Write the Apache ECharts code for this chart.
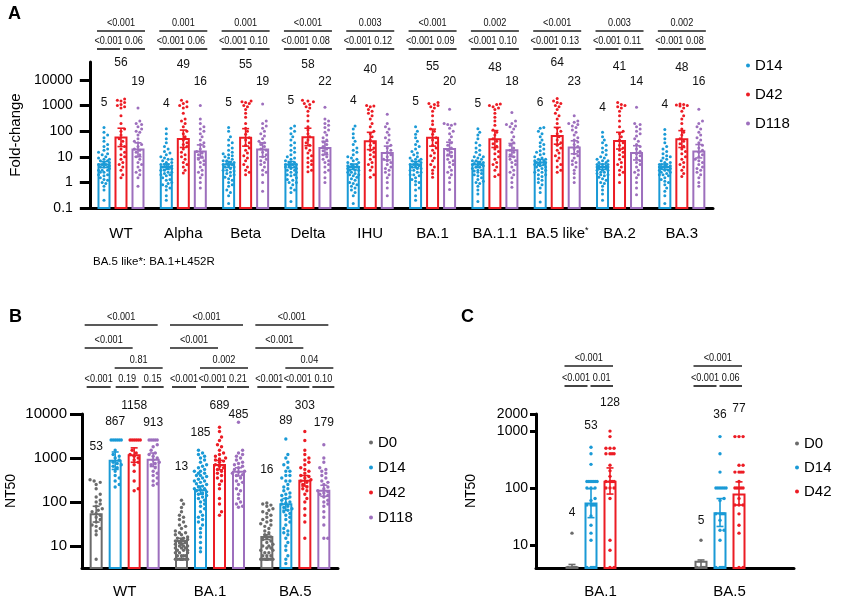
<!DOCTYPE html>
<html><head><meta charset="utf-8">
<script src="https://cdn.jsdelivr.net/npm/echarts@6/dist/echarts.min.js"></script>
<style>html,body{margin:0;padding:0;background:#fff}#c{width:841px;height:604px}</style>
</head><body><div id="c"></div>
<script>
const FONT = '"Liberation Sans", Arial, Helvetica, sans-serif';
const COL = {D0:'#6b6b6b', D14:'#1a9ad6', D42:'#ec1c24', D118:'#9d6fbd'};

// ---------------- Panel A: fold-change ----------------
const catsA = ['WT','Alpha','Beta','Delta','IHU','BA.1','BA.1.1','BA.5 like*','BA.2','BA.3'];
const meanA_D14  = [5,4,5,5,4,5,5,6,4,4];
const meanA_D42  = [56,49,55,58,40,55,48,64,41,48];
const meanA_D118 = [19,16,19,22,14,20,18,23,14,16];
const lowA_D14  = [3.8,3.2,3.8,3.8,3.2,3.8,3.8,4.6,3.2,3.2];
const highA_D14 = [6.5,5.2,6.5,6.5,5.2,6.5,6.5,7.8,5.2,5.2];
const lowA_D42  = [25,23,26,27,19,26,23,31,20,23];
const highA_D42 = [130,110,125,130,90,120,105,140,90,105];
const lowA_D118 = [10,9,10,12,7.5,11,10,13,7.5,9];
const highA_D118= [35,29,35,40,26,37,33,42,27,30];
const dotsA_D14 = [
 [140,90,70,55,40,30,25,20,18,15,13,12,10,9,8,8,7,7,6,6,5,5,5,4.5,4,4,4,3.5,3,3,3,2.5,2.5,2,2,1.8,1.5,1.3,1.2,1,0.9,0.7,0.5,0.2],
 [125,80,50,35,25,20,16,14,12,10,9,8,8,7,6,6,5,5,5,4.5,4,4,4,3.5,3.5,3,3,2.5,2.5,2.2,2,2,1.8,1.5,1.3,1.2,1,0.9,0.8,0.7,0.6,0.5,0.3,0.2],
 [140,100,60,45,35,28,22,18,15,13,12,11,10,9,8,7,7,6,6,5.5,5,5,4.5,4,4,3.5,3,3,2.8,2.5,2.2,2,1.8,1.6,1.4,1.2,1,0.8,0.7,0.5,0.4,0.3,0.15],
 [160,130,100,80,60,45,35,28,22,18,15,12,10,9,8,7,6,6,5,5,5,4.5,4,4,3.5,3.5,3,3,2.5,2.5,2,2,1.8,1.5,1.3,1.2,1,1,0.8,0.6,0.5,0.4,0.18],
 [160,120,80,55,40,30,22,18,15,12,10,9,8,7,6,6,5,5,4.5,4.5,4,4,4,3.5,3.5,3,3,3,2.5,2.5,2.2,2,2,1.8,1.6,1.4,1.2,1,0.9,0.8,0.7,0.6,0.5,0.4,0.3,0.15],
 [150,100,75,55,40,30,25,20,16,14,12,10,9,8,8,7,7,6,6,5,5,5,4.5,4,4,3.5,3.5,3,3,2.5,2.5,2,2,1.8,1.5,1.3,1.1,1,0.8,0.6,0.5,0.3,0.2],
 [125,90,70,50,35,28,22,18,15,12,10,10,9,8,7,7,6,6,5.5,5,5,5,4.5,4,4,3.5,3,3,2.8,2.5,2.2,2,1.8,1.5,1.3,1.1,1,0.9,0.7,0.5,0.35,0.18],
 [140,130,100,80,60,45,35,30,25,20,17,15,13,12,10,9,8,8,7,7,6,6,6,5,5,5,4.5,4,4,3.5,3,3,2.5,2.5,2,2,1.7,1.4,1.2,1,0.8,0.6,0.4,0.17],
 [90,60,45,35,28,22,18,15,12,10,9,8,7,7,6,6,5,5,5,4.5,4.5,4,4,4,3.5,3.5,3,3,3,2.5,2.5,2.2,2,2,1.8,1.6,1.4,1.2,1,0.9,0.7,0.5,0.35,0.2],
 [115,75,50,35,25,20,16,13,11,10,9,8,7,6,6,5,5,5,4.5,4.5,4,4,4,3.5,3.5,3,3,3,2.5,2.5,2.2,2,2,1.8,1.5,1.3,1.1,1,0.8,0.6,0.45,0.3,0.15]
];
const dotsA_D42 = [
 [1800,1600,1500,1300,1100,1000,900,800,400,200,120,100,70,50,40,30,25,20,15,12,10,8,6,5,4,3,2,1.5],
 [1600,1400,1200,1000,900,800,500,300,250,200,150,100,80,60,45,35,30,25,20,15,12,10,8,6,5,4,3,2.3],
 [1500,1400,1300,1200,1000,900,700,500,350,200,130,100,75,55,45,35,28,22,18,14,11,9,7,5,4,3,2.5,2],
 [1600,1500,1400,1200,1100,900,800,600,400,250,150,110,80,60,45,35,28,22,18,14,11,9,7,6,5,4,3,2.6],
 [1000,950,900,700,600,500,400,300,200,150,100,80,60,45,35,28,22,18,15,12,10,8,6,5,4,3,2,1.6],
 [1300,1200,1100,1000,900,800,600,400,250,180,120,100,75,55,45,35,28,22,18,14,11,9,7,5,4,3,2.2,1.6],
 [1150,1100,1000,900,800,700,500,350,250,170,110,90,70,50,40,32,26,20,16,13,10,8,6,5,4,3,2,1.7],
 [1900,1500,1300,1200,1000,900,700,500,400,300,200,130,100,80,60,45,35,28,22,18,14,11,9,7,5,4,3,2.5],
 [1300,1100,1000,900,800,600,400,250,150,100,80,60,45,35,28,22,18,15,12,10,8,6,5,4,3,2.5,2,1],
 [1150,1100,1050,1000,950,800,600,400,300,200,120,90,70,50,40,32,26,20,16,13,10,8,6,5,4,3,2.2,1.7]
];
const dotsA_D118 = [
 [800,250,200,180,150,120,100,90,70,50,40,35,30,25,20,18,15,12,10,8,6,5,4,3,2.5,2,1.5,0.7],
 [1000,300,200,150,120,100,80,60,45,35,30,25,20,16,14,12,10,8,7,6,5,4,3,2.5,2,1.5,1,0.6],
 [1150,250,200,160,130,100,80,65,50,40,35,30,25,20,18,15,12,10,8,7,6,5,4,3,2.5,2,1,0.45],
 [850,300,250,200,170,140,110,90,70,55,45,38,30,25,20,17,14,12,10,8,7,6,5,4,3,2.5,1.5,1],
 [460,200,150,120,90,70,55,45,35,28,22,18,15,12,10,8,7,6,5,4,3.5,3,2.5,2,1.5,1,0.6,0.3],
 [720,200,190,180,170,130,100,80,60,45,35,28,22,18,15,12,10,8,7,6,5,4,3,2.5,2,1.5,1,0.53],
 [540,250,200,180,160,150,120,90,60,45,35,28,22,18,15,12,10,8,7,6,5,4,3,2.5,2,1.5,1,0.65],
 [400,250,220,200,180,160,140,110,90,70,55,45,38,30,25,20,16,13,11,9,7,6,5,4,3,2.2,1.5,1],
 [850,200,180,150,120,100,80,65,50,40,30,25,20,16,13,11,9,7,6,5,4,3,2.5,2,1.5,1,0.6,0.33],
 [720,250,200,150,120,90,70,55,45,35,28,22,18,15,12,10,8,7,6,5,4,3.5,3,2.5,2,1.5,1,0.7]
];
const pA_top   = ['<0.001','0.001','0.001','<0.001','0.003','<0.001','0.002','<0.001','0.003','0.002'];
const pA_left  = ['<0.001','<0.001','<0.001','<0.001','<0.001','<0.001','<0.001','<0.001','<0.001','<0.001'];
const pA_right = ['0.06','0.06','0.10','0.08','0.12','0.09','0.10','0.13','0.11','0.08'];
const ticksA = [0.1,1,10,100,1000,10000];

// ---------------- Panel B: NT50 ----------------
const catsB = ['WT','BA.1','BA.5'];
const meanB_D0   = [53,13,16];
const meanB_D14  = [867,185,89];
const meanB_D42  = [1158,689,303];
const meanB_D118 = [913,485,179];
const lowB_D0 = [35,11.5,14],   highB_D0 = [80,15,18];
const lowB_D14 = [550,150,65],  highB_D14 = [1370,230,120];
const lowB_D42 = [800,540,230], highB_D42 = [1700,880,400];
const lowB_D118 = [640,390,135],highB_D118 = [1300,600,240];
const dotsB_D0 = [
 [320,300,280,250,200,150,130,110,100,90,80,70,65,60,55,50,45,40,35,30,28,25,22,18,5],
 [110,90,75,60,50,45,40,35,30,28,25,22,20,20,18,18,16,15,15,14,14,13,12,12,11,11,10,10,10,9,9,9,8,8,8,7,7,7,6,6,6,6,5,5,5,5,5,5,5,5,5,5,5,5,5],
 [95,90,85,80,70,65,60,55,50,45,40,38,35,32,30,28,25,22,20,18,16,15,14,13,12,11,10,10,9,9,8,8,7,7,6,6,6,5,5,5,5,5,5,5,5,5,5,5,5,5]
];
const dotsB_D14 = [
 [2560,2560,2560,2560,2560,2560,1500,1200,1100,1000,900,800,750,700,650,600,500,400,350,300,250,220],
 [1500,1300,1200,1100,1000,900,800,700,650,600,550,500,500,450,450,400,400,380,350,330,300,300,280,260,250,230,220,200,200,190,180,170,160,150,140,130,120,110,100,90,80,70,60,50,45,40,35,30,25,20,16,12,9,7.4],
 [2700,1200,1000,800,700,600,500,500,400,400,350,300,300,250,220,200,180,160,150,140,130,120,110,100,95,90,80,75,70,65,60,55,50,45,40,35,30,25,22,20,18,15,12,10,8,6,5,4]
];
const dotsB_D42 = [
 [2560,2560,2560,2560,2560,2560,1500,1300,1200,1100,1000,900,800,700,500,300,200,180],
 [5000,4000,3000,2500,2000,1800,1500,1300,1200,1100,1000,950,900,850,800,700,650,600,550,500,450,400,350,300,250,200,120,90,60,50],
 [4000,2500,1500,1200,1000,900,800,700,600,550,500,450,400,380,350,320,300,280,250,220,200,180,150,120,100,70,50,35,15]
];
const dotsB_D118 = [
 [2560,2560,2560,2560,2560,2000,1800,1500,1300,1200,1100,1000,900,800,750,700,600,500,450,400,350,300,260,240],
 [6500,1500,1300,1200,1100,1000,900,800,750,700,650,600,550,500,480,450,420,400,350,300,280,250,200,180,150,120,100,90,80,76],
 [2000,1000,800,600,550,500,450,400,350,300,280,250,220,200,180,170,160,150,140,130,110,100,90,80,60,45,30,15,15]
];
const pB_r1 = ['<0.001','<0.001','<0.001'];   // D0 vs D118
const pB_r2 = ['<0.001','<0.001','<0.001'];   // D0 vs D42
const pB_r3 = ['0.81','0.002','0.04'];        // D14 vs D118
const pB_a  = ['<0.001','<0.001','<0.001'];   // D0 vs D14
const pB_b  = ['0.19','<0.001','<0.001'];     // D14 vs D42
const pB_c  = ['0.15','0.21','0.10'];         // D42 vs D118
const ticksB = [10,100,1000,10000];

// ---------------- Panel C: NT50 ----------------
const catsC = ['BA.1','BA.5'];
const meanC_D0  = [4,5];
const meanC_D14 = [53,36];
const meanC_D42 = [128,77];
const lowC_D0 = [4,4],   highC_D0 = [4.5,5.4];
const lowC_D14 = [30,21], highC_D14 = [97,65];
const lowC_D42 = [78,50], highC_D42 = [225,128];
const dotsC_D0 = [[16,4,4,4,4],[12,4,4,4,4]];
const dotsC_D14 = [
 [520,400,260,130,130,130,130,130,130,100,100,100,65,60,50,50,50,50,32,22,16,12,4,4,4,4],
 [800,400,190,100,100,100,100,100,100,65,60,35,35,35,35,27,18,18,12,4,4,4,4]
];
const dotsC_D42 = [
 [1000,800,500,500,500,400,400,400,400,250,200,160,130,130,130,130,100,100,100,65,12,8,4,4],
 [800,800,800,250,250,190,190,190,190,130,100,100,100,100,100,65,50,50,50,35,22,16,4,4]
];
const pC_top = ['<0.001','<0.001'];
const pC_left = ['<0.001','<0.001'];
const pC_right = ['0.01','0.06'];
const ticksC = [10,100,1000,2000];

// ---------------- helpers ----------------
function swarm(cx, ys, r, maxHalf) {
  const d = 2 * r + 0.3, step = d * 0.55;
  const idx = ys.map((_, i) => i).sort((a, b) => ys[b] - ys[a]);
  const cands = [0];
  for (let k = 1; k * step <= maxHalf; k++) cands.push(k * step, -k * step);
  const pts = [], xs = [];
  for (const i of idx) {
    const y = ys[i];
    let bestX = 0, best = -1;
    for (const c of cands) {
      let m = Infinity;
      for (const p of pts) {
        if (Math.abs(p[1] - y) < d) { const dd = Math.hypot(p[0] - c, p[1] - y); if (dd < m) m = dd; }
      }
      if (m >= d) { bestX = c; best = Infinity; break; }
      if (m > best) { best = m; bestX = c; }
    }
    pts.push([bestX, y]); xs[i] = cx + bestX;
  }
  return xs;
}

function groupSeries(name, axis, means, lows, highs, dots, o) {
  const color = COL[name];
  return {
    type: 'custom', name, xAxisIndex: axis, yAxisIndex: axis, silent: true,
    itemStyle: { color },
    data: means.map((m, i) => [i, m, lows[i], highs[i]]),
    encode: { x: 0, y: 1 },
    renderItem(params, api) {
      const i = params.dataIndex, cat = api.value(0);
      const cs = params.coordSys, base = cs.y + cs.height;
      const p = api.coord([cat, means[i]]);
      const cx = p[0] + o.offset, top = p[1];
      const ch = [];
      ch.push({ type: 'rect', shape: { x: cx - o.barW / 2, y: top, width: o.barW, height: base - top },
        style: { fill: 'none', stroke: color, lineWidth: 2 } });
      const ys = dots[i].map(v => api.coord([cat, v])[1]);
      const xs = swarm(cx, ys, o.r, o.spread);
      ys.forEach((y, k) => ch.push({ type: 'circle', shape: { cx: xs[k], cy: y, r: o.r }, style: { fill: color } }));
      const yl = api.coord([cat, lows[i]])[1], yh = api.coord([cat, highs[i]])[1];
      const es = { stroke: color, lineWidth: 1.6, fill: 'none' };
      ch.push({ type: 'line', shape: { x1: cx, y1: yl, x2: cx, y2: yh }, style: es });
      ch.push({ type: 'line', shape: { x1: cx - 3.5, y1: yh, x2: cx + 3.5, y2: yh }, style: es });
      ch.push({ type: 'line', shape: { x1: cx - 3.5, y1: yl, x2: cx + 3.5, y2: yl }, style: es });
      const minY = Math.min(Math.min.apply(null, ys), yh);
      const ly = Math.min(o.labelY != null ? o.labelY : Infinity, minY - o.labelOff);
      ch.push({ type: 'text', x: cx, y: ly,
        style: { text: String(means[i]), fill: '#111', fontSize: 12, fontFamily: FONT, align: 'center', verticalAlign: 'middle' } });
      return { type: 'group', children: ch };
    }
  };
}

function bracketSeries(axis, n, rows) {
  return {
    type: 'custom', xAxisIndex: axis, yAxisIndex: axis, silent: true,
    data: Array.from({ length: n }, (_, i) => [i, 10]),
    encode: { x: 0, y: 1 },
    renderItem(params, api) {
      const i = params.dataIndex;
      const cx = api.coord([api.value(0), 10])[0];
      const ch = [];
      rows.forEach(row => row.segs.forEach(s => {
        ch.push({ type: 'line', shape: { x1: cx + s[0], y1: row.y, x2: cx + s[1], y2: row.y },
          style: { stroke: '#222', lineWidth: 1.7 } });
        ch.push({ type: 'text', x: cx + (s[0] + s[1]) / 2, y: row.y - 8, scaleX: 0.87,
          style: { text: s[2][i], fill: '#111', fontSize: 10.5, fontFamily: FONT, align: 'center', verticalAlign: 'middle' } });
      }));
      return { type: 'group', children: ch };
    }
  };
}

const fmt = v => String(+(+v).toPrecision(6));
function yAxisCfg(grid, min, max, ticks, name, nameGap, tickLen, margin) {
  return {
    gridIndex: grid, type: 'log', logBase: 10, min, max,
    name, nameLocation: 'middle', nameGap,
    nameTextStyle: { fontSize: grid === 0 ? 15 : 14, color: '#000', fontFamily: FONT },
    axisLine: { show: true, lineStyle: { color: '#000', width: 3 } },
    axisTick: { show: true, length: tickLen, customValues: ticks, lineStyle: { color: '#000', width: 3 } },
    axisLabel: { show: true, fontSize: grid === 1 ? 15 : 14, color: '#000', margin, customValues: ticks, formatter: fmt, fontFamily: FONT },
    splitLine: { show: false }
  };
}
function xAxisCfg(grid, cats, tickLen, margin) {
  return {
    gridIndex: grid, type: 'category', data: cats,
    axisLine: { onZero: false, lineStyle: { color: '#000', width: 3 } },
    axisTick: { alignWithLabel: true, length: tickLen, lineStyle: { color: '#000', width: 3 } },
    axisLabel: { interval: 0, fontSize: 15, color: '#000', margin, fontFamily: FONT,
      formatter: v => v.endsWith('*') ? v.slice(0, -1) + '{s|*}' : v,
      rich: { s: { fontSize: 9, verticalAlign: 'top', color: '#000', fontFamily: FONT } } },
    splitLine: { show: false }
  };
}
function legendCfg(names, left, top, gap) {
  return {
    data: names.map(n => ({ name: n, icon: 'circle', itemStyle: { color: COL[n] } })),
    orient: 'vertical', left, top, itemWidth: 4, itemHeight: 4, itemGap: gap, selectedMode: false,
    textStyle: { fontSize: 15, color: '#000', fontFamily: FONT }
  };
}

const oA = { barW: 11, r: 1.5, spread: 6.5 };
const oB = { barW: 11, r: 1.7, spread: 7 };
const series = [
  bracketSeries(0, catsA.length, [
    { y: 31, segs: [[-24, 24, pA_top]] },
    { y: 49, segs: [[-24, -1, pA_left], [2, 24, pA_right]] }
  ]),
  groupSeries('D14', 0, meanA_D14, lowA_D14, highA_D14, dotsA_D14, Object.assign({ offset: -17, labelOff: 25 }, oA)),
  groupSeries('D42', 0, meanA_D42, lowA_D42, highA_D42, dotsA_D42, Object.assign({ offset: 0, labelOff: 36 }, oA)),
  groupSeries('D118', 0, meanA_D118, lowA_D118, highA_D118, dotsA_D118, Object.assign({ offset: 17, labelY: 82, labelOff: 8 }, oA)),

  bracketSeries(1, catsB.length, [
    { y: 325, segs: [[-40, 33, pB_r1]] },
    { y: 348, segs: [[-40, 8, pB_r2]] },
    { y: 368, segs: [[-10, 38, pB_r3]] },
    { y: 387, segs: [[-38, -14, pB_a], [-9, 14, pB_b], [17, 39, pB_c]] }
  ]),
  groupSeries('D0', 1, meanB_D0, lowB_D0, highB_D0, dotsB_D0, Object.assign({ offset: -28.5, labelOff: 33 }, oB)),
  groupSeries('D14', 1, meanB_D14, lowB_D14, highB_D14, dotsB_D14, Object.assign({ offset: -9.5, labelOff: 18 }, oB)),
  groupSeries('D42', 1, meanB_D42, lowB_D42, highB_D42, dotsB_D42, Object.assign({ offset: 9.5, labelY: 406, labelOff: 13 }, oB)),
  groupSeries('D118', 1, meanB_D118, lowB_D118, highB_D118, dotsB_D118, Object.assign({ offset: 28.5, labelY: 423, labelOff: 8 }, oB)),

  bracketSeries(2, catsC.length, [
    { y: 366, segs: [[-36, 12.5, pC_top]] },
    { y: 386, segs: [[-36, -13, pC_left], [-10, 12.5, pC_right]] }
  ]),
  groupSeries('D0', 2, meanC_D0, lowC_D0, highC_D0, dotsC_D0, Object.assign({ offset: -28.5, labelOff: 20 }, oB)),
  groupSeries('D14', 2, meanC_D14, lowC_D14, highC_D14, dotsC_D14, Object.assign({ offset: -9.5, labelOff: 22 }, oB)),
  groupSeries('D42', 2, meanC_D42, lowC_D42, highC_D42, dotsC_D42, Object.assign({ offset: 9.5, labelOff: 28 }, oB))
];

const option = {
  animation: false,
  textStyle: { fontFamily: FONT },
  grid: [
    { left: 82, top: 62, width: 631, height: 146 },
    { left: 82, top: 414, width: 256, height: 154 },
    { left: 536, top: 414, width: 258, height: 154 }
  ],
  xAxis: [xAxisCfg(0, catsA, 10, 18), xAxisCfg(1, catsB, 12, 16), xAxisCfg(2, catsC, 12, 16)],
  yAxis: [
    yAxisCfg(0, 0.1, 50000, ticksA, 'Fold-change', 64, 10, 17),
    yAxisCfg(1, Math.sqrt(10), 10000, ticksB, 'NT50', 64, 12, 15),
    yAxisCfg(2, 3.9, 2000, ticksC, 'NT50', 58, 6, 8)
  ],
  legend: [
    legendCfg(['D14', 'D42', 'D118'], 741, 53, 14),
    legendCfg(['D0', 'D14', 'D42', 'D118'], 364, 430, 10),
    legendCfg(['D0', 'D14', 'D42'], 790, 431, 9)
  ],
  graphic: [
    { type: 'text', left: 8, top: 5, style: { text: 'A', font: 'bold 18px ' + FONT, fill: '#000' } },
    { type: 'text', left: 9, top: 308, style: { text: 'B', font: 'bold 18px ' + FONT, fill: '#000' } },
    { type: 'text', left: 461, top: 308, style: { text: 'C', font: 'bold 18px ' + FONT, fill: '#000' } },
    { type: 'text', left: 93, top: 256, style: { text: 'BA.5 like*: BA.1+L452R', font: '11.5px ' + FONT, fill: '#000' } }
  ],
  series
};
const chart = echarts.init(document.getElementById('c'), null, { renderer: 'canvas' });
chart.setOption(option);
</script></body></html>
